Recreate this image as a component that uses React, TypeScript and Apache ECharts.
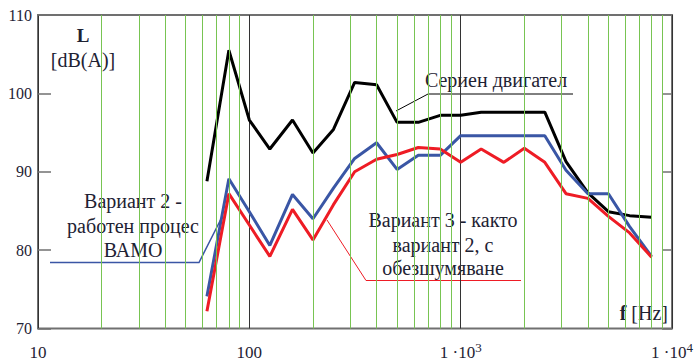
import React, { useEffect, useRef } from "react";
import * as echarts from "echarts";

const freqs = [63, 80, 100, 125, 160, 200, 250, 315, 400, 500, 630, 800, 1000, 1250, 1600, 2000, 2500, 3150, 4000, 5000, 6300, 8000];
const serien = [88.8, 105.5, 96.6, 92.9, 96.6, 92.4, 95.4, 101.4, 101.1, 96.3, 96.3, 97.2, 97.2, 97.6, 97.6, 97.6, 97.6, 91.3, 87.3, 84.9, 84.4, 84.2];
const variant2 = [74.1, 89.1, 84.9, 80.6, 87.1, 84.0, 87.9, 91.7, 93.7, 90.3, 92.1, 92.1, 94.6, 94.6, 94.6, 94.6, 94.6, 90.2, 87.2, 87.2, 83.0, 79.2];
const variant3 = [72.2, 87.2, 83.2, 79.2, 85.2, 81.3, 85.8, 90.0, 91.6, 92.2, 93.1, 92.9, 91.2, 92.9, 91.2, 93.0, 91.2, 87.2, 86.6, 84.3, 82.2, 79.1];
const minorGridFreqs = [20, 30, 40, 50, 60, 70, 80, 90, 200, 300, 400, 500, 600, 700, 800, 900, 2000, 3000, 4000, 5000, 6000, 7000, 8000, 9000];
const xTickLabels: Record<number, string> = { 10: "{n|10}", 100: "{n|100}", 1000: "{n|1 ·10}{sup|3}", 10000: "{n|1 ·10}{sup|4}" };

const FONT = "'Liberation Serif', 'Times New Roman', 'DejaVu Serif', serif";
const TXT = "#1e2233";

const txt = (x: number, y: number, text: string, size = 20, extra: any = {}) => ({
  type: "text",
  x,
  y,
  style: { text, fontFamily: FONT, fontSize: size, fill: TXT, align: "center", verticalAlign: "middle", ...extra },
});

export default function App() {
  const ref = useRef<HTMLDivElement>(null);
  useEffect(() => {
    const chart = echarts.init(ref.current!, null, { renderer: "svg" });
    const pts = (arr: number[]) => freqs.map((f, i) => [f, arr[i]]);
    chart.setOption({
      animation: false,
      textStyle: { fontFamily: FONT },
      grid: { left: 38, right: 19, top: 15, bottom: 32, show: true, borderColor: "#707070", borderWidth: 2 },
      xAxis: {
        type: "log",
        logBase: 10,
        min: 10,
        max: 10000,
        axisLine: { show: false },
        axisTick: { show: false },
        splitLine: { show: true, lineStyle: { color: "#333", width: 1 } },
        axisLabel: {
          fontFamily: FONT,
          fontSize: 16,
          color: TXT,
          margin: 12,
          formatter: (v: number) => xTickLabels[Math.round(v)] ?? "",
          rich: {
            n: { fontFamily: FONT, fontSize: 17, color: TXT, lineHeight: 24, verticalAlign: "middle" },
            sup: { fontFamily: FONT, fontSize: 13, color: TXT, lineHeight: 10, verticalAlign: "top" },
          },
        },
      },
      yAxis: [
        {
          type: "value",
          min: 70,
          max: 110,
          interval: 10,
          axisLine: { show: false },
          axisTick: { show: true, inside: true, length: 13, lineStyle: { color: "#707070", width: 1.5 } },
          splitLine: { show: false },
          axisLabel: { fontFamily: FONT, fontSize: 16, color: TXT, margin: 6 },
        },
        {
          type: "value",
          position: "right",
          min: 70,
          max: 110,
          interval: 10,
          axisLine: { show: false },
          axisTick: { show: true, inside: true, length: 10, lineStyle: { color: "#707070", width: 1.5 } },
          splitLine: { show: false },
          axisLabel: { show: false },
        },
      ],
      series: [
        {
          type: "line",
          data: [],
          z: 1,
          silent: true,
          markLine: {
            silent: true,
            symbol: "none",
            label: { show: false },
            lineStyle: { color: "#78c452", width: 1, type: "solid" },
            data: minorGridFreqs.map((v) => ({ xAxis: v })),
          },
        },
        { name: "Сериен двигател", type: "line", data: pts(serien), showSymbol: false, z: 3, lineStyle: { color: "#000", width: 3 }, itemStyle: { color: "#000" } },
        { name: "Вариант 2", type: "line", data: pts(variant2), showSymbol: false, z: 3, lineStyle: { color: "#3a56a5", width: 3 }, itemStyle: { color: "#3a56a5" } },
        { name: "Вариант 3", type: "line", data: pts(variant3), showSymbol: false, z: 4, lineStyle: { color: "#ee1c25", width: 3 }, itemStyle: { color: "#ee1c25" } },
      ],
      graphic: [
        txt(83, 35, "L", 19, { fontWeight: "bold" }),
        txt(83, 60, "[dB(A)]", 20),
        txt(496, 80, "Сериен двигател", 20),
        { type: "polyline", shape: { points: [[573, 94], [428, 94], [396, 111]] }, style: { stroke: "#000", lineWidth: 1, fill: "none" } },
        txt(133, 201, "Вариант 2 -"),
        txt(133, 226, "работен процес"),
        txt(133, 250, "ВАМО"),
        { type: "polyline", shape: { points: [[50, 262.5], [199, 262.5], [222, 217]] }, style: { stroke: "#3a56a5", lineWidth: 1.5, fill: "none" } },
        txt(443, 220, "Вариант 3 - както"),
        txt(443, 245, "вариант 2, с"),
        txt(443, 268, "обезшумяване"),
        { type: "polyline", shape: { points: [[327, 220], [366, 280.5], [521, 280.5]] }, style: { stroke: "#ee1c25", lineWidth: 1, fill: "none" } },
        {
          type: "text",
          x: 668,
          y: 313,
          style: {
            text: "{b|f} [Hz]",
            fontFamily: FONT,
            fontSize: 20,
            fill: TXT,
            align: "right",
            verticalAlign: "middle",
            rich: { b: { fontFamily: FONT, fontSize: 20, fontWeight: "bold", fill: TXT } },
          },
        },
      ],
    });
    return () => chart.dispose();
  }, []);
  return <div ref={ref} style={{ position: "fixed", left: 0, top: 0, width: 696, height: 361, background: "#fff" }} />;
}
